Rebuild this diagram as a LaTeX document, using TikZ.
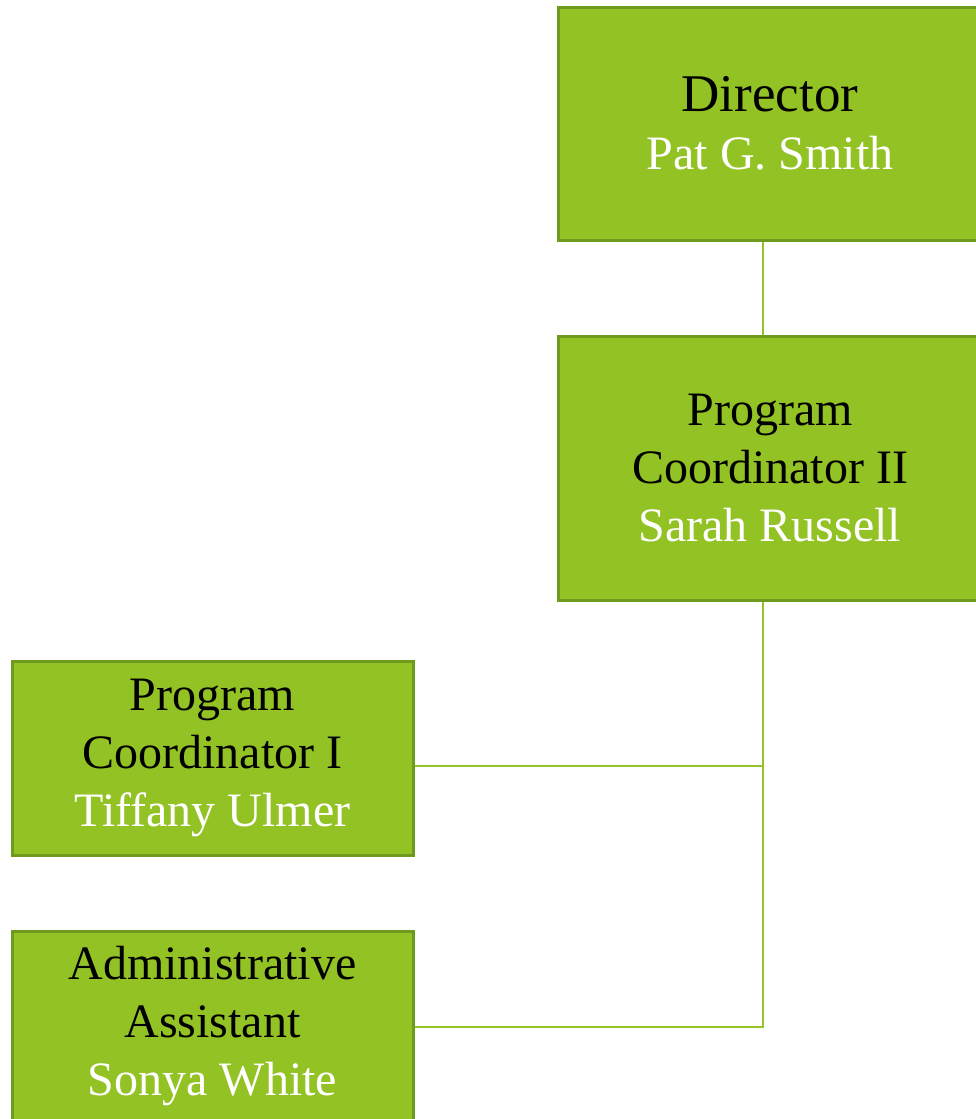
\documentclass[tikz,border=0pt]{standalone}
\usepackage{fontspec}
\setmainfont{Liberation Serif}
\definecolor{boxfill}{HTML}{93C225}
\definecolor{boxedge}{HTML}{6E9A1E}
\definecolor{linkgreen}{HTML}{94C227}
\tikzset{
  orgbox/.style={draw=boxedge, line width=3pt, fill=boxfill, rectangle,
    align=center, inner sep=0pt, font=\fontsize{48}{58}\selectfont},
  link/.style={draw=linkgreen, line width=2.6pt}
}
\newcommand{\who}[1]{\textcolor{white}{#1}}
\begin{document}
\begin{tikzpicture}[x=1pt, y=-1pt]
  \useasboundingbox (0,0) rectangle (976,1119);
  \begin{scope}
    \clip (0,0) rectangle (976,1119);
    % boxes
    \node[orgbox, minimum width=424pt, minimum height=233pt] (dir) at (770,123.5)
      {{\fontsize{53}{58}\selectfont Director}\\\who{Pat G. Smith}};
    \node[orgbox, minimum width=424pt, minimum height=264pt] (pc2) at (770,468)
      {Program\\Coordinator II\\\who{Sarah Russell}};
    \node[orgbox, minimum width=401pt, minimum height=194pt] (pc1) at (212.5,758)
      {Program\\Coordinator I\\\who{Tiffany Ulmer}};
    \node[orgbox, minimum width=401pt, minimum height=190pt] (adm) at (212.5,1026)
      {Administrative\\Assistant\\\who{Sonya White}};
    % reporting lines along one vertical trunk
    \coordinate (trunk) at (763,0);
    \draw[link] (dir.south -| trunk) -- (pc2.north -| trunk);
    \draw[link] (pc2.south -| trunk) |- ([yshift=-8pt]pc1.east);
    \draw[link] (pc2.south -| trunk) |- ([yshift=-1pt]adm.east);
  \end{scope}
\end{tikzpicture}
\end{document}
